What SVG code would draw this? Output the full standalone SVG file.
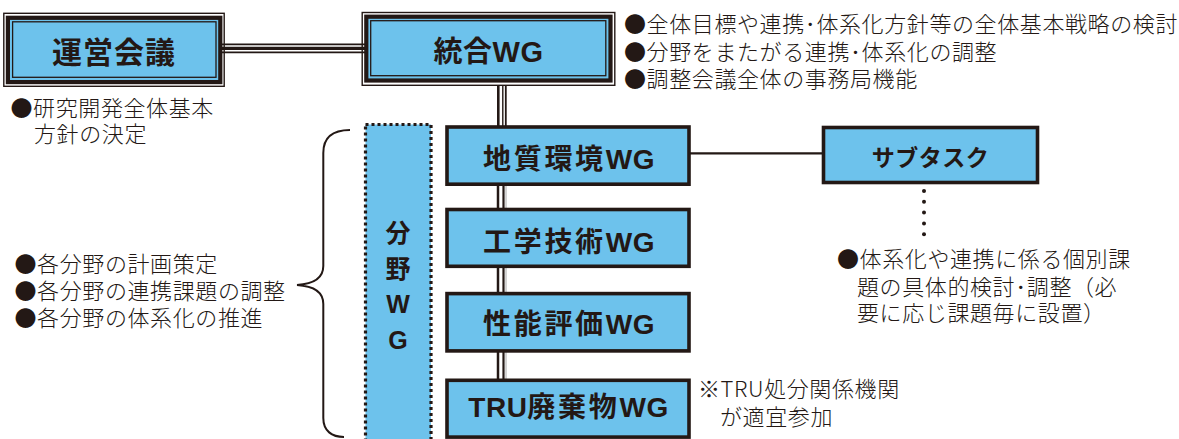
<svg xmlns="http://www.w3.org/2000/svg" width="1179" height="439" viewBox="0 0 1179 439" xml:lang="ja">
<style>
.bg{fill:#ffffff}
.outer{fill:none;stroke:#231815;stroke-width:1.4}
.thick{fill:#6DC2EC;stroke:#231815;stroke-width:4.2}
.inner{fill:none;stroke:#231815;stroke-width:1.3}
.wg{fill:#6DC2EC;stroke:#231815;stroke-width:3.6}
.dotbox{fill:#6DC2EC;stroke:#231815;stroke-width:3.2;stroke-dasharray:3 3}
.ln{stroke:#231815;fill:none}
.title{font-family:"Liberation Sans","Noto Sans CJK JP",sans-serif;font-weight:700;fill:#231815;text-anchor:middle}
.wgt{font-size:28px;letter-spacing:2.7px}
.lat{letter-spacing:0.5px}
.body{font-family:"Noto Sans CJK JP","Noto Sans CJK SC",sans-serif;font-weight:300;font-size:22px;letter-spacing:0.6px;fill:#231815}
</style>
<rect class="bg" x="0" y="0" width="1179" height="439"/>

<g id="connectors">
  <line class="ln" x1="220" y1="44.3" x2="366" y2="44.3" stroke-width="1.8"/>
  <line class="ln" x1="220" y1="48.3" x2="366" y2="48.3" stroke-width="3.3"/>
  <line class="ln" x1="220" y1="52.3" x2="366" y2="52.3" stroke-width="1.8"/>
  <line class="ln" x1="498.3" y1="85" x2="498.3" y2="128" stroke-width="2.6"/>
  <line class="ln" x1="502.8" y1="85" x2="502.8" y2="128" stroke-width="1.4"/>
  <line class="ln" x1="505.8" y1="85" x2="505.8" y2="128" stroke-width="1.8"/>
  <line class="ln" x1="498" y1="128" x2="498" y2="382" stroke-width="2.5"/>
  <line class="ln" x1="503.5" y1="128" x2="503.5" y2="382" stroke-width="2.2"/>
  <line x1="506" y1="128" x2="506" y2="382" stroke="#aaaaaa" stroke-width="1"/>
  <line class="ln" x1="689" y1="153.3" x2="824" y2="153.3" stroke-width="2.2"/>
  <g fill="#231815">
    <circle cx="924" cy="191" r="2"/>
    <circle cx="924" cy="201.8" r="2"/>
    <circle cx="924" cy="212.6" r="2"/>
    <circle cx="924" cy="223.4" r="2"/>
    <circle cx="924" cy="234.2" r="2"/>
  </g>
  <path class="ln" stroke-width="2" d="M350,130 C333,130 323.3,137 323.3,153 L323.3,266 C323.3,278 313,284 297,285 C313,286 323.3,292 323.3,304 L323.3,418 C323.3,431 332,437 344,437"/>
</g>

<g id="node-unei">
  <rect class="outer" x="3.8" y="13.3" width="220.4" height="73"/>
  <rect class="thick" x="7.9" y="17.8" width="212.4" height="64.3"/>
  <rect class="inner" x="12.6" y="21.8" width="203.4" height="55.5"/>
  <text class="title" x="114" y="62.5" font-size="30" letter-spacing="1">運営会議</text>
</g>
<g id="node-unei-note">
  <text class="body" x="10.5" y="115.5">●研究開発全体基本</text>
  <text class="body" x="34" y="141.5">方針の決定</text>
</g>

<g id="node-tougou">
  <rect class="outer" x="362.2" y="12.5" width="252.6" height="72.8"/>
  <rect class="thick" x="366.3" y="16.7" width="244.2" height="63.8"/>
  <rect class="inner" x="370.7" y="20.7" width="235.1" height="55"/>
  <text class="title" x="488.5" y="61.7" font-size="29" letter-spacing="0.5">統合WG</text>
</g>
<g id="node-tougou-note">
  <text class="body" x="624" y="32">●全体目標や連携･体系化方針等の全体基本戦略の検討</text>
  <text class="body" x="624" y="59.5">●分野をまたがる連携･体系化の調整</text>
  <text class="body" x="624" y="87">●調整会議全体の事務局機能</text>
</g>

<g id="node-bunya">
  <rect class="dotbox" x="365.5" y="124.5" width="65.5" height="330"/>
  <text class="title" x="398" y="242" font-size="25">分</text>
  <text class="title" x="398" y="277.5" font-size="25">野</text>
  <text class="title" x="398" y="313" font-size="25">W</text>
  <text class="title" x="398" y="349" font-size="25">G</text>
</g>
<g id="node-bunya-note">
  <text class="body" x="14.5" y="271.5">●各分野の計画策定</text>
  <text class="body" x="14.5" y="298.5">●各分野の連携課題の調整</text>
  <text class="body" x="14.5" y="325.5">●各分野の体系化の推進</text>
</g>

<g id="node-chishitsu">
  <rect class="wg" x="447" y="127" width="242" height="57.2"/>
  <text class="title wgt" x="569" y="169.4">地質環境<tspan class="lat">WG</tspan></text>
</g>
<g id="node-kougaku">
  <rect class="wg" x="447" y="209.5" width="242" height="56.8"/>
  <text class="title wgt" x="569" y="252.4">工学技術<tspan class="lat">WG</tspan></text>
</g>
<g id="node-seinou">
  <rect class="wg" x="447" y="293.6" width="242" height="57.3"/>
  <text class="title wgt" x="569" y="333.7">性能評価<tspan class="lat">WG</tspan></text>
</g>
<g id="node-tru">
  <rect class="wg" x="447" y="380.3" width="242" height="56.8"/>
  <text class="title wgt" x="568.5" y="417.1"><tspan class="lat">TRU</tspan>廃棄物<tspan class="lat">WG</tspan></text>
</g>
<g id="node-tru-note">
  <text class="body" x="698" y="396.5">※TRU処分関係機関</text>
  <text class="body" x="720" y="424.5">が適宜参加</text>
</g>

<g id="node-subtask">
  <rect class="wg" x="823.5" y="127.5" width="214" height="55"/>
  <text class="title" x="930.5" y="166" font-size="23" letter-spacing="0.5">サブタスク</text>
</g>
<g id="node-subtask-note">
  <text class="body" x="837" y="266.5">●体系化や連携に係る個別課</text>
  <text class="body" x="857" y="294.5">題の具体的検討･調整（必</text>
  <text class="body" x="857" y="320.5">要に応じ課題毎に設置）</text>
</g>
</svg>
